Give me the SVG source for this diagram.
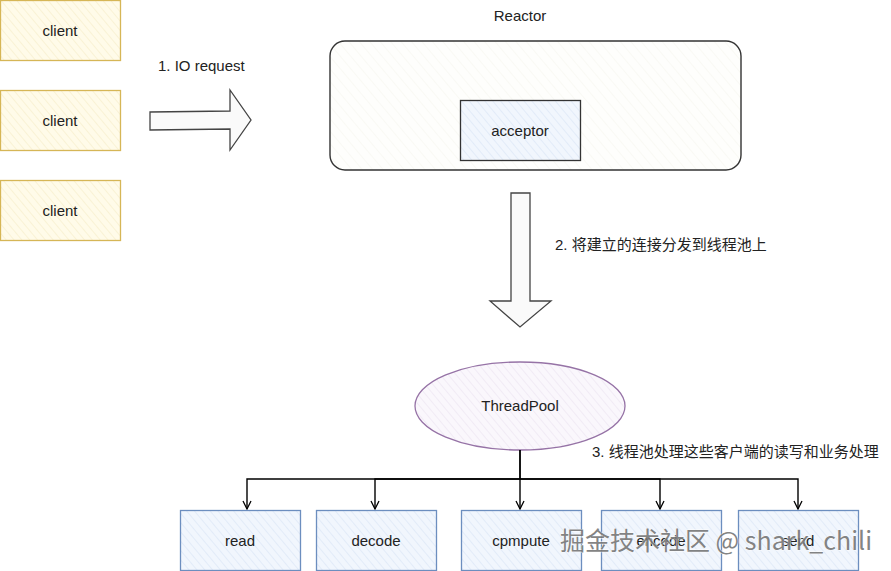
<svg xmlns="http://www.w3.org/2000/svg" width="891" height="571" viewBox="0 0 891 571">
<defs>
<pattern id="hY" width="6" height="6" patternUnits="userSpaceOnUse" patternTransform="rotate(-40)"><rect width="6" height="6" fill="#fffbe9"/><line x1="0" y1="0" x2="0" y2="6" stroke="#f5ecc8" stroke-width="1.2"/></pattern>
<pattern id="hB" width="6" height="6" patternUnits="userSpaceOnUse" patternTransform="rotate(-40)"><rect width="6" height="6" fill="#f1f6fd"/><line x1="0" y1="0" x2="0" y2="6" stroke="#d8e5f6" stroke-width="1.2"/></pattern>
<pattern id="hP" width="6" height="6" patternUnits="userSpaceOnUse" patternTransform="rotate(-40)"><rect width="6" height="6" fill="#faf7fc"/><line x1="0" y1="0" x2="0" y2="6" stroke="#ece3f1" stroke-width="1.2"/></pattern>
<pattern id="hW" width="8" height="8" patternUnits="userSpaceOnUse" patternTransform="rotate(-40)"><rect width="8" height="8" fill="#fefefc"/><line x1="0" y1="0" x2="0" y2="8" stroke="#f7f7f0" stroke-width="1.2"/></pattern>
<marker id="arr" viewBox="0 0 10 10" refX="9" refY="5" markerWidth="10" markerHeight="10" markerUnits="userSpaceOnUse" orient="auto"><path d="M1,1 L9,5 L1,9" fill="none" stroke="#000" stroke-width="1.3"/></marker>
</defs>
<style>
text{font-family:"Liberation Sans",Arial,sans-serif;font-size:15px;fill:#222}
.cjk{font-family:"Liberation Sans","Noto Sans CJK SC",sans-serif;font-size:15px}
.client rect{fill:url(#hY);stroke:#d6b656;stroke-width:1.3}
.task rect{fill:url(#hB);stroke:#6c8ebf;stroke-width:1.3}
.big{fill:#fafafa;stroke:#444;stroke-width:1.3}
.conn{fill:none;stroke:#000;stroke-width:1.4}
.wm{font-family:"Noto Sans CJK SC","Liberation Sans",sans-serif;font-size:25px;fill:#777;stroke:#fff;stroke-width:0.8;paint-order:stroke;opacity:0.9}
</style>
<rect width="891" height="571" fill="#fff"/>

<g id="client1" class="client"><rect x="0.5" y="0.5" width="120" height="60"/><text x="60" y="36" text-anchor="middle">client</text></g>
<g id="client2" class="client"><rect x="0.5" y="90.5" width="120" height="60"/><text x="60" y="126" text-anchor="middle">client</text></g>
<g id="client3" class="client"><rect x="0.5" y="180.5" width="120" height="60"/><text x="60" y="216" text-anchor="middle">client</text></g>

<g id="io-arrow"><path class="big" d="M150,112 L230,111 L230,90 L251,120 L230,150 L230,129 L150,130 Z"/></g>
<text x="158" y="71">1. IO request</text>

<g id="reactor">
<rect x="330" y="41" width="411" height="129" rx="15" ry="15" fill="url(#hW)" stroke="#333" stroke-width="1.4"/>
<text x="520" y="21" text-anchor="middle">Reactor</text>
</g>
<g id="acceptor"><rect x="460.5" y="100.5" width="120" height="60" fill="url(#hB)" stroke="#333" stroke-width="1.3"/><text x="520" y="136" text-anchor="middle">acceptor</text></g>

<g id="dispatch-arrow"><path class="big" d="M511,193 L530,193 L530,301 L551,301 L520,327 L490,301 L511,301 Z"/></g>
<text class="cjk" x="555" y="250">2. 将建立的连接分发到线程池上</text>

<g id="threadpool"><ellipse cx="520" cy="406" rx="105" ry="44" fill="url(#hP)" stroke="#9673a6" stroke-width="1.3"/><text x="520" y="411" text-anchor="middle">ThreadPool</text></g>
<text class="cjk" x="592" y="457">3. 线程池处理这些客户端的读写和业务处理</text>

<g id="connectors">
<path class="conn" d="M520,450 L520,479 L247,479 L247,509" marker-end="url(#arr)"/>
<path class="conn" d="M520,479 L375,479 L375,509" marker-end="url(#arr)"/>
<path class="conn" d="M520,450 L520,509" marker-end="url(#arr)"/>
<path class="conn" d="M520,479 L660,479 L660,509" marker-end="url(#arr)"/>
<path class="conn" d="M520,479 L798,479 L798,509" marker-end="url(#arr)"/>
</g>

<g id="read" class="task"><rect x="180.5" y="510.5" width="120" height="60"/><text x="240" y="546" text-anchor="middle">read</text></g>
<g id="decode" class="task"><rect x="316.5" y="510.5" width="120" height="60"/><text x="376" y="546" text-anchor="middle">decode</text></g>
<g id="compute" class="task"><rect x="461.5" y="510.5" width="120" height="60"/><text x="521" y="546" text-anchor="middle">cpmpute</text></g>
<g id="encode" class="task"><rect x="601.5" y="510.5" width="120" height="60"/><text x="661" y="546" text-anchor="middle">encode</text></g>
<g id="send" class="task"><rect x="738.5" y="510.5" width="120" height="60"/><text x="798" y="546" text-anchor="middle">send</text></g>

<text class="wm" x="560" y="550">掘金技术社区 @ shark_chili</text>
</svg>
